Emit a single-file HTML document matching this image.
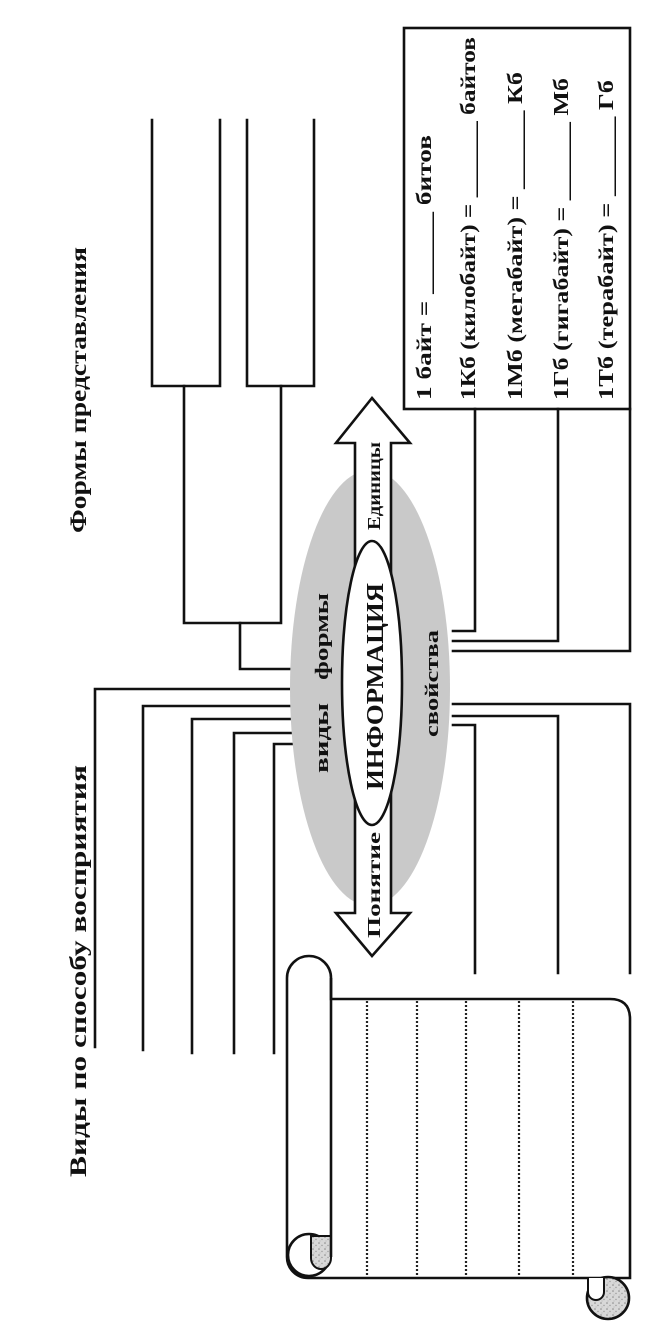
<!DOCTYPE html>
<html><head><meta charset="utf-8"><style>
html,body{margin:0;padding:0;background:#fff;}
svg{display:block;}
text{font-family:"Liberation Serif","DejaVu Serif",serif;font-weight:bold;fill:#111;}
</style></head><body>
<svg width="660" height="1330" viewBox="0 0 660 1330" xmlns="http://www.w3.org/2000/svg">
<defs>
<pattern id="spk" width="6" height="6" patternUnits="userSpaceOnUse">
<rect width="6" height="6" fill="#d8d8d8"/><circle cx="1" cy="1" r="0.8" fill="#888"/><circle cx="4" cy="3.5" r="0.7" fill="#999"/><circle cx="2" cy="5" r="0.5" fill="#aaa"/>
</pattern>
</defs>
<g stroke="#111" stroke-width="2.6" fill="none" stroke-linecap="square">
<polyline points="152,120 152,386 220,386 220,120"/>
<polyline points="247,120 247,386 314,386 314,120"/>
<polyline points="184,386 184,623 281,623 281,386"/>
<polyline points="240,623 240,669 290,669"/>
<polyline points="95,1047 95,689 292,689"/>
<polyline points="143,1050 143,706 292,706"/>
<polyline points="192,1053 192,719 292,719"/>
<polyline points="234,1053 234,733 292,733"/>
<polyline points="274,1053 274,744 292,744"/>
<rect x="404" y="28" width="226" height="381"/>
<polyline points="475,409 475,631 453,631"/>
<polyline points="558,409 558,641 453,641"/>
<polyline points="630,409 630,651 453,651"/>
<polyline points="453,704 630,704 630,973"/>
<polyline points="453,716 558,716 558,973"/>
<polyline points="453,725 475,725 475,973"/>
</g>
<ellipse cx="370" cy="688" rx="80" ry="218" fill="#c9c9c9"/>
<polygon points="372,398 410,443 391,443 391,913 410,913 372,956 336,913 355,913 355,443 336,443" fill="#fff" stroke="#111" stroke-width="2.6" stroke-linejoin="miter"/>
<ellipse cx="372" cy="683" rx="30" ry="142" fill="#fff" stroke="#111" stroke-width="2.6"/>
<g stroke="#111" stroke-width="2.6">
<path d="M331,999 L610,999 Q630,999 630,1019 L630,1278 L308,1278 A21,21 0 0 1 287,1257 L287,978 A22,22 0 0 1 331,978 Z" fill="#fff"/>
<circle cx="309" cy="1255" r="21" fill="#fff"/>
<path d="M311,1236 L331,1236 L331,1258 A10,11 0 0 1 311,1258 Z" fill="url(#spk)" stroke-width="2"/>
<line x1="331" y1="978" x2="331" y2="1257"/>
<circle cx="608" cy="1298" r="21" fill="url(#spk)"/>
<path d="M588,1278 L588,1292 A8,8 0 0 0 604,1292 L604,1278" fill="#fff" stroke-width="2"/>
</g>
<g stroke="#222" stroke-width="2.2" stroke-dasharray="2,2">
<line x1="367" y1="1001" x2="367" y2="1276"/>
<line x1="417" y1="1001" x2="417" y2="1276"/>
<line x1="466" y1="1001" x2="466" y2="1276"/>
<line x1="519" y1="1001" x2="519" y2="1276"/>
<line x1="573" y1="1001" x2="573" y2="1276"/>
</g>
<text font-size="23" transform="translate(86,533) rotate(-90)" textLength="286" lengthAdjust="spacingAndGlyphs">Формы представления</text>
<text font-size="23" transform="translate(86,1177) rotate(-90)" textLength="412" lengthAdjust="spacingAndGlyphs">Виды по способу восприятия</text>
<text font-size="21" transform="translate(431,400) rotate(-90)" textLength="265" lengthAdjust="spacingAndGlyphs">1 байт = ______ битов</text>
<text font-size="21" transform="translate(475,400) rotate(-90)" textLength="363" lengthAdjust="spacingAndGlyphs">1Кб (килобайт) = ______ байтов</text>
<text font-size="21" transform="translate(522,400) rotate(-90)" textLength="328" lengthAdjust="spacingAndGlyphs">1Мб (мегабайт) = ______ Кб</text>
<text font-size="21" transform="translate(568,400) rotate(-90)" textLength="322" lengthAdjust="spacingAndGlyphs">1Гб (гигабайт) = ______ Мб</text>
<text font-size="21" transform="translate(613,400) rotate(-90)" textLength="320" lengthAdjust="spacingAndGlyphs">1Тб (терабайт) = ______ Гб</text>
<text font-size="24" transform="translate(383,790) rotate(-90)" textLength="207" lengthAdjust="spacingAndGlyphs">ИНФОРМАЦИЯ</text>
<text font-size="19" transform="translate(328,773) rotate(-90)" textLength="70" lengthAdjust="spacingAndGlyphs">виды</text>
<text font-size="19" transform="translate(328,680) rotate(-90)" textLength="87" lengthAdjust="spacingAndGlyphs">формы</text>
<text font-size="19" transform="translate(438,737) rotate(-90)" textLength="107" lengthAdjust="spacingAndGlyphs">свойства</text>
<text font-size="18" transform="translate(380,530) rotate(-90)" textLength="88" lengthAdjust="spacingAndGlyphs">Единицы</text>
<text font-size="18" transform="translate(380,938) rotate(-90)" textLength="106" lengthAdjust="spacingAndGlyphs">Понятие</text>
</svg>
</body></html>
